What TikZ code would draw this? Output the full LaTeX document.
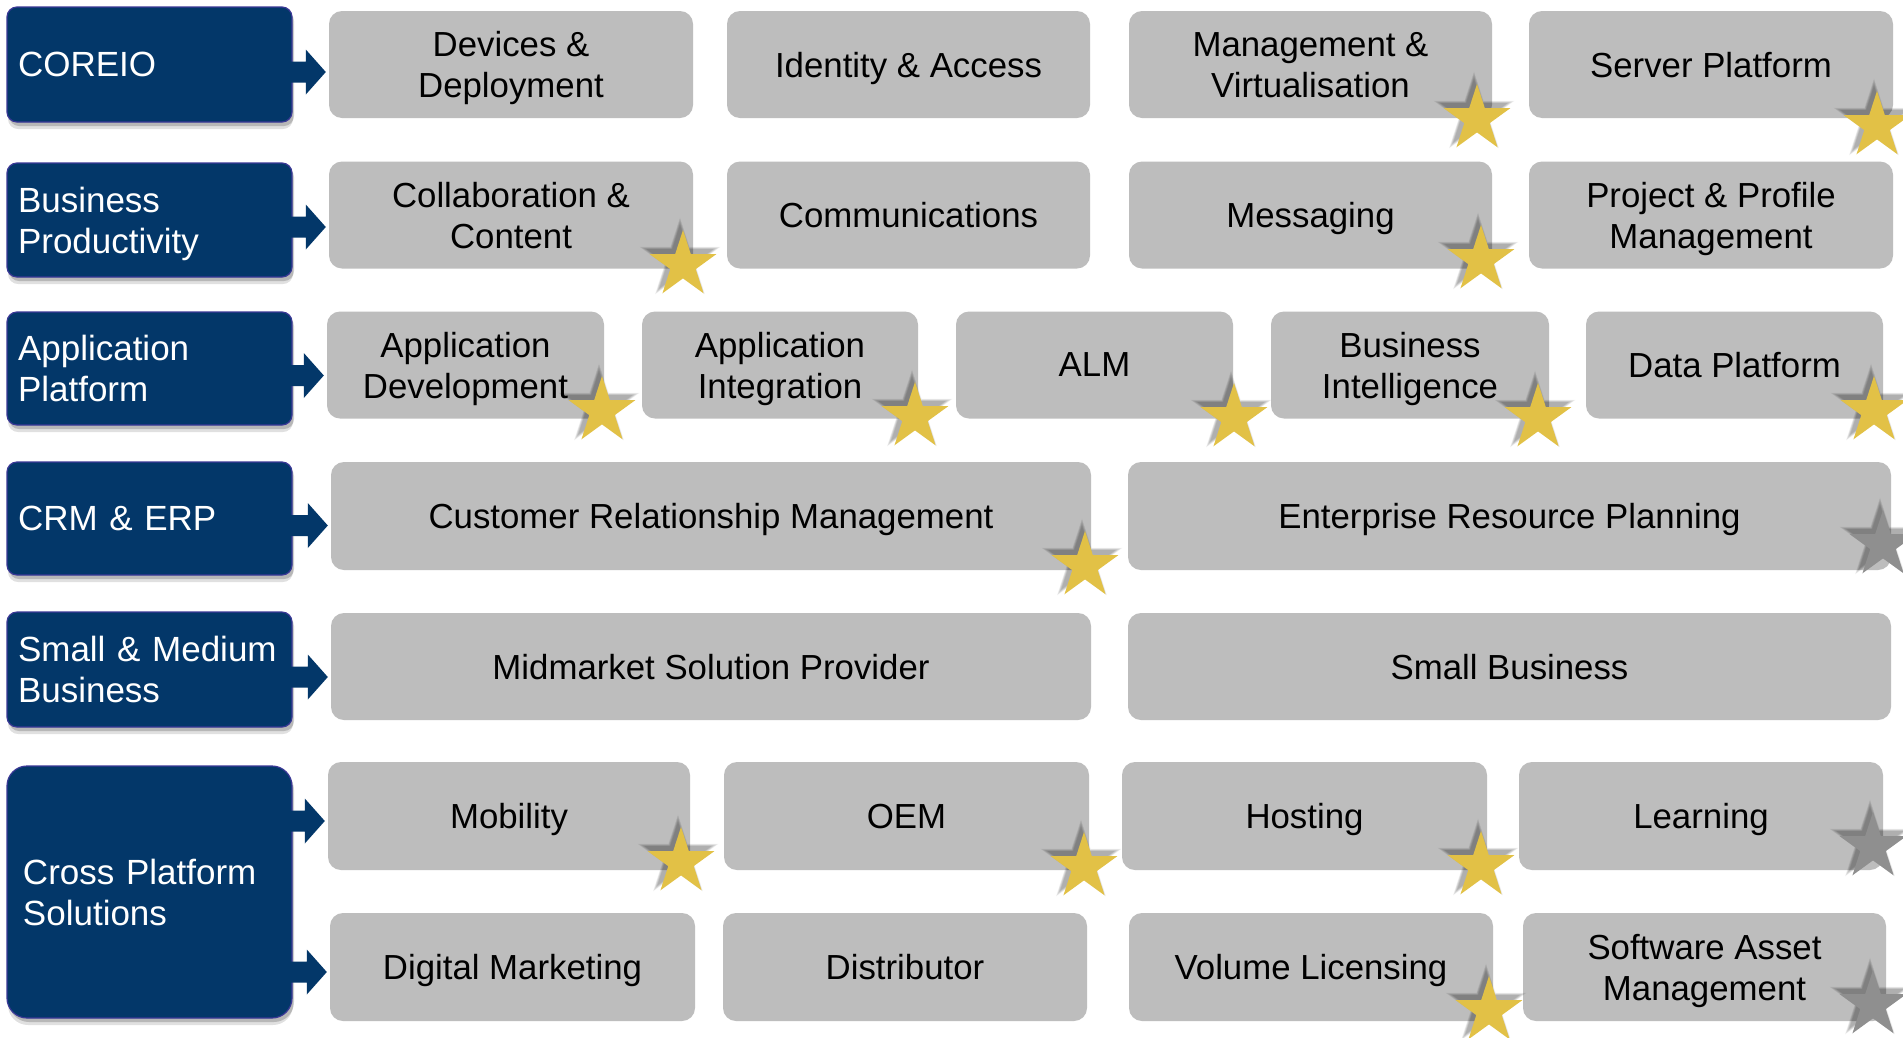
\documentclass[tikz,border=0pt]{standalone}
\usepackage{fontspec}
\setmainfont{Liberation Sans}
\usetikzlibrary{shapes.geometric,shadows,calc}
\definecolor{navy}{RGB}{3,55,105}
\definecolor{navyedge}{RGB}{58,56,150}
\definecolor{boxgrey}{RGB}{189,189,189}
\definecolor{gold}{RGB}{226,193,70}
\definecolor{stargrey}{RGB}{143,143,143}
\tikzset{
  bluebox/.style={draw=navyedge, line width=1.2pt, fill=navy, rounded corners=10pt,
    text=white, align=left, inner xsep=11pt, text width=263pt,
    minimum width=285pt, font=\fontsize{35}{41}\selectfont,
    drop shadow={shadow xshift=1pt, shadow yshift=-7pt, opacity=0.12, fill=black},
    drop shadow={shadow xshift=2pt, shadow yshift=-4pt, opacity=0.18, fill=black}},
  greybox/.style={fill=boxgrey, rounded corners=13pt, align=center, text=black,
    inner sep=0pt, text depth=0pt, font=\fontsize{34.8}{41}\selectfont},
  starbase/.style={star, star points=5, star point ratio=2.618, inner sep=0pt,
    minimum size=70pt, draw=none},
  arrowblue/.style={fill=navy},
}
% star with soft shadow: name, x, y, colour
\newcommand\mystar[4]{%
  \foreach \s in {70,73,76,79,82,85}{%
    \node[starbase, minimum size=\s pt, fill=black, opacity=0.06] at ($(#2,#3)+(-3,-5)$) {};}
  \node[starbase, fill=#4] (#1) at (#2,#3) {};}
% connector arrow: from, to, vertical offset
\newcommand\linkarrow[3]{%
  \coordinate (s#1#2) at ($(#1.east)+(0,#3)$);
  \coordinate (t#1#2) at ($(s#1#2 -| #2.west)+(-3,0)$);
  \fill[arrowblue] ($(s#1#2)+(-2,-10.5)$) -- ($(t#1#2)+(-20,-10.5)$) -- ($(t#1#2)+(-20,-22.5)$)
    -- (t#1#2) -- ($(t#1#2)+(-20,22.5)$) -- ($(t#1#2)+(-20,10.5)$) -- ($(s#1#2)+(-2,10.5)$) -- cycle;}
\begin{document}
\begin{tikzpicture}[x=1pt,y=-1pt]
\useasboundingbox (0,0) rectangle (1903,1037);
\fill[white] (0,0) rectangle (1903,1037);

% left blue boxes
\node[bluebox, minimum height=115pt] (cor) at (149.5,64.5) {COREIO};
\node[bluebox, minimum height=114pt, text depth=41pt] (bp) at (149.5,220) {Business\\Productivity};
\node[bluebox, minimum height=113pt] (ap) at (149.5,368.5) {Application\\Platform};
\node[bluebox, minimum height=113pt] (ce) at (149.5,518.5) {CRM \& ERP};
\node[bluebox, minimum height=115pt] (smb) at (149.5,669.5) {Small \& Medium\\Business};
\node[bluebox, minimum height=252pt, rounded corners=20pt, inner xsep=16pt, text width=253pt] (cps) at (149.5,892) {Cross Platform\\Solutions};

% row 1
\node[greybox, minimum width=364pt, minimum height=107pt] (dev) at (511,64.5) {Devices \&\\Deployment};
\node[greybox, minimum width=363pt, minimum height=107pt] (ida) at (908.5,64.5) {Identity \& Access};
\node[greybox, minimum width=363pt, minimum height=107pt] (mgv) at (1310.5,64.5) {Management \&\\Virtualisation};
\node[greybox, minimum width=364pt, minimum height=107pt] (srv) at (1711,64.5) {Server Platform};
% row 2
\node[greybox, minimum width=364pt, minimum height=107pt] (col) at (511,215) {Collaboration \&\\Content};
\node[greybox, minimum width=363pt, minimum height=107pt] (com) at (908.5,215) {Communications};
\node[greybox, minimum width=363pt, minimum height=107pt] (msg) at (1310.5,215) {Messaging};
\node[greybox, minimum width=364pt, minimum height=107pt] (ppm) at (1711,215) {Project \& Profile\\Management};
% row 3
\node[greybox, minimum width=277pt, minimum height=107pt] (adev) at (465.5,365) {Application\\Development};
\node[greybox, minimum width=276pt, minimum height=107pt] (aint) at (780,365) {Application\\Integration};
\node[greybox, minimum width=277pt, minimum height=107pt] (alm) at (1094.5,365) {ALM};
\node[greybox, minimum width=278pt, minimum height=107pt] (bi) at (1410,365) {Business\\Intelligence};
\node[greybox, minimum width=297pt, minimum height=107pt] (dp) at (1734.5,365) {Data Platform};
% row 4
\node[greybox, minimum width=760pt, minimum height=108pt] (crm) at (711,516) {Customer Relationship Management};
\node[greybox, minimum width=763pt, minimum height=108pt] (erp) at (1509.5,516) {Enterprise Resource Planning};
% row 5
\node[greybox, minimum width=760pt, minimum height=107pt] (msp) at (711,666.5) {Midmarket Solution Provider};
\node[greybox, minimum width=763pt, minimum height=107pt] (sb) at (1509.5,666.5) {Small Business};
% row 6
\node[greybox, minimum width=362pt, minimum height=108pt] (mob) at (509,816) {Mobility};
\node[greybox, minimum width=365pt, minimum height=108pt] (oem) at (906.5,816) {OEM};
\node[greybox, minimum width=365pt, minimum height=108pt] (host) at (1304.5,816) {Hosting};
\node[greybox, minimum width=364pt, minimum height=108pt] (learn) at (1701,816) {Learning};
% row 7
\node[greybox, minimum width=365pt, minimum height=108pt] (dm) at (512.5,967) {Digital Marketing};
\node[greybox, minimum width=364pt, minimum height=108pt] (dist) at (905,967) {Distributor};
\node[greybox, minimum width=364pt, minimum height=108pt] (vl) at (1311,967) {Volume Licensing};
\node[greybox, minimum width=363pt, minimum height=108pt] (sam) at (1704.5,967) {Software Asset\\Management};

% connectors
\linkarrow{cor}{dev}{7.5}
\linkarrow{bp}{col}{7}
\linkarrow{ap}{adev}{7}
\linkarrow{ce}{crm}{7}
\linkarrow{smb}{msp}{7.5}
\linkarrow{cps}{mob}{-71}
\linkarrow{cps}{dm}{80}

% stars
\mystar{st1}{1477}{119}{gold}
\mystar{st2}{1877}{126}{gold}
\mystar{st3}{683}{265}{gold}
\mystar{st4}{1481}{260}{gold}
\mystar{st5}{602}{411}{gold}
\mystar{st6}{915}{417}{gold}
\mystar{st7}{1234}{418}{gold}
\mystar{st8}{1538}{418}{gold}
\mystar{st9}{1874}{411}{gold}
\mystar{st10}{1085}{566}{gold}
\mystar{st11}{1883}{545}{stargrey}
\mystar{st12}{681}{862}{gold}
\mystar{st13}{1084}{867}{gold}
\mystar{st14}{1481}{866}{gold}
\mystar{st15}{1873}{847}{stargrey}
\mystar{st16}{1489}{1011}{gold}
\mystar{st17}{1873}{1005}{stargrey}
\end{tikzpicture}
\end{document}
